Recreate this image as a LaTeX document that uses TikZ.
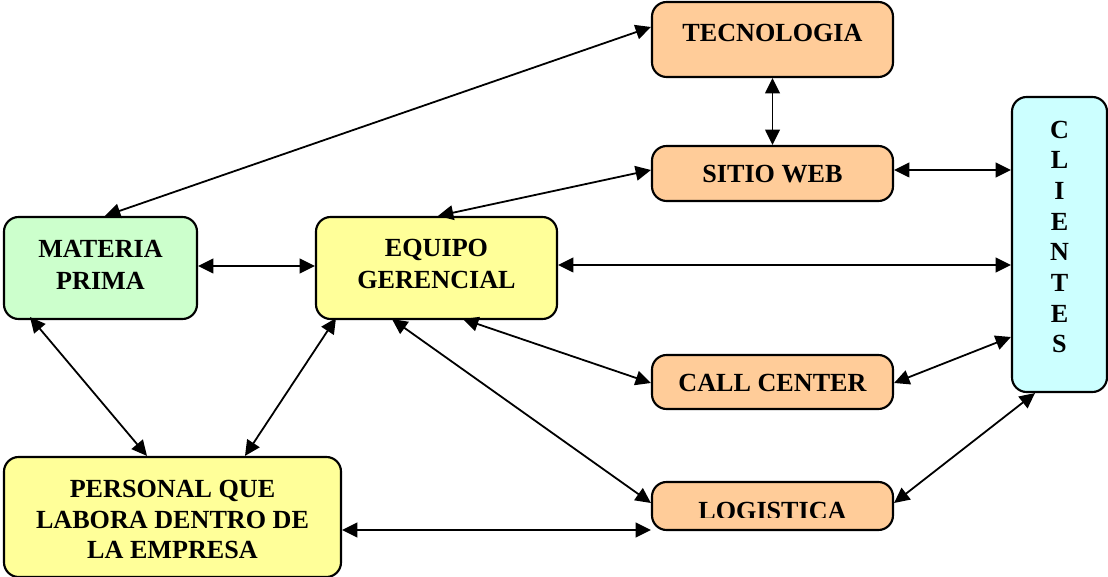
\documentclass[tikz,border=0pt]{standalone}
\usepackage{fontspec}
\setmainfont{Liberation Serif}
\usetikzlibrary{arrows.meta,calc}
\definecolor{peach}{HTML}{FFCC99}
\definecolor{mint}{HTML}{CCFFCC}
\definecolor{lemon}{HTML}{FFFF99}
\definecolor{sky}{HTML}{CCFFFF}
\tikzset{
  box/.style={draw=black, line width=1.6pt, rounded corners=11pt, inner sep=0pt},
  lbl/.style={inner sep=0pt, align=center, font=\fontsize{19.6}{24}\selectfont\bfseries},
  tip/.style={Triangle[length=11.5pt,width=11pt]},
  link/.style={line width=1.35pt, {Triangle[length=11.5pt,width=11pt]}-{Triangle[length=11.5pt,width=11pt]}}
}
\begin{document}
\begin{tikzpicture}[x=0.75pt,y=-0.75pt]
\useasboundingbox (0,0) rectangle (1108,577);

% boxes
\node[box, fill=peach, minimum width=180.75pt, minimum height=56.25pt] (tec) at (772.5,39.5) {};
\node[box, fill=peach, minimum width=180.75pt, minimum height=41.25pt] (web) at (772.5,173.5) {};
\node[box, fill=peach, minimum width=180.75pt, minimum height=40.5pt] (call) at (772.5,382) {};
\node[box, fill=peach, minimum width=180.75pt, minimum height=36pt] (log) at (772.5,506) {};
\node[box, fill=mint, minimum width=144.75pt, minimum height=76.5pt] (mat) at (100.5,268) {};
\node[box, fill=lemon, minimum width=180.75pt, minimum height=76.5pt] (equ) at (436.5,268) {};
\node[box, fill=lemon, minimum width=252.75pt, minimum height=90pt] (per) at (172.5,517) {};
\node[box, fill=sky, minimum width=71.25pt, minimum height=221.25pt] (cli) at (1059.5,244.5) {};

% labels
\node[lbl] (tec-t) at (772.5,32.5) {TECNOLOGIA};
\node[lbl] (web-t) at (772.5,174) {SITIO WEB};
\node[lbl] (call-t) at (772.5,383) {CALL CENTER};
\begin{scope}
  \clip (652,482) rectangle (893,517.5);
  \node[lbl] (log-t) at (772.5,511) {LOGISTICA};
\end{scope}
\node[lbl] (mat-t) at (100.5,264.5) {MATERIA\\PRIMA};
\node[lbl] (equ-t) at (436.5,264) {EQUIPO\\GERENCIAL};
\node[lbl, font=\fontsize{19.6}{22.9}\selectfont\bfseries] (per-t) at (172.5,519.5) {PERSONAL QUE\\LABORA DENTRO DE\\LA EMPRESA};
\node[lbl, font=\fontsize{19.6}{23}\selectfont\bfseries] (cli-t) at (1059.5,237) {C\\L\\I\\E\\N\\T\\E\\S};

% connectors
\draw[link] ($(tec.west)+(0,-12.5)$) -- ($(mat.north)+(4.5,0)$);
\draw[link] (tec.south) -- (web.north);
\draw[link] ($(web.west)+(0,-3.5)$) -- ($(equ.north)+(1.5,0)$);
\draw[link] ($(web.east)+(0,-3.5)$) -- ($(cli.west)+(0,-74.5)$);
\draw[link] ($(mat.east)+(0,-2)$) -- ($(equ.west)+(0,-2)$);
\draw[link] ($(equ.east)+(0,-3)$) -- ($(cli.west)+(0,20.5)$);
\draw[link] ($(equ.south)+(26.5,-1)$) -- ($(call.west)+(0,1)$);
\draw[link] ($(call.east)+(0,1)$) -- ($(cli.west)+(0,92.5)$);
\draw[link] ($(equ.south)+(-44.5,-1)$) -- ($(log.west)+(0,-3)$);
\draw[link] ($(log.east)+(0,-3)$) -- ($(cli.south)+(-24.5,0)$);
\draw[link] ($(mat.south)+(-70.5,-3)$) -- ($(per.north)+(-25.5,0)$);
\draw[link] ($(equ.south)+(-100.5,-2)$) -- ($(per.north)+(72.5,0)$);
\draw[link] ($(per.east)+(0,13)$) -- ($(log.west)+(0,24)$);
\end{tikzpicture}
\end{document}
